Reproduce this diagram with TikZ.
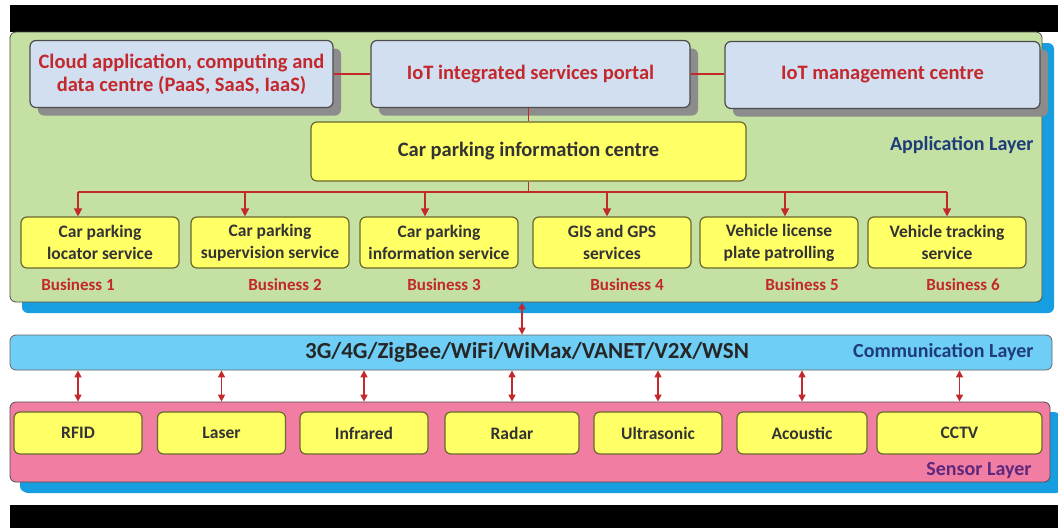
\documentclass[tikz,border=0pt]{standalone}
\usepackage{fontspec}
\setmainfont{Carlito}
\usetikzlibrary{arrows.meta,shadows}
\definecolor{appgreen}{RGB}{197,224,163}
\definecolor{shblue}{RGB}{22,158,224}
\definecolor{boxblue}{RGB}{210,223,240}
\definecolor{boxyel}{RGB}{255,255,102}
\definecolor{yelline}{RGB}{105,105,45}
\definecolor{txtred}{RGB}{195,40,45}
\definecolor{laybl}{RGB}{30,60,120}
\definecolor{commbl}{RGB}{110,206,246}
\definecolor{sensp}{RGB}{241,126,162}
\definecolor{senslab}{RGB}{95,40,125}
\tikzstyle{panel}=[draw=black!70,line width=0.8pt,rounded corners=6pt,inner sep=0,drop shadow={shadow xshift=12pt,shadow yshift=-11pt,fill=shblue,opacity=1}]
\tikzstyle{portal}=[draw=black!70,fill=boxblue,rounded corners=6pt,line width=1.2pt,text=txtred,font=\bfseries\fontsize{20.5}{23}\selectfont,align=center,minimum height=67pt,inner sep=0,drop shadow={shadow xshift=8pt,shadow yshift=-8pt,fill=black!45,opacity=1}]
\tikzstyle{biz}=[draw=yelline,fill=boxyel,rounded corners=6pt,line width=1.2pt,text=black!80,font=\bfseries\fontsize{17.5}{22}\selectfont,align=center,minimum width=158pt,minimum height=51pt,inner sep=0]
\tikzstyle{sens}=[biz,minimum width=128pt,minimum height=42pt]
\tikzstyle{bizlab}=[text=txtred,font=\bfseries\fontsize{17}{20}\selectfont]
\tikzstyle{laylab}=[anchor=east,font=\bfseries\fontsize{20}{24}\selectfont]
\tikzstyle{link}=[draw=txtred,line width=1.5pt]
\tikzstyle{dlink}=[link,{Triangle[length=7pt,width=7pt]}-{Triangle[length=7pt,width=7pt]}]

\begin{document}
\begin{tikzpicture}[x=1pt,y=-1pt]

	\useasboundingbox (0,0) rectangle (1058,528);
	\fill[white] (0,0) rectangle (1058,528);
	\fill[black] (10,5) rectangle (1058,32);
	\fill[black] (10,505) rectangle (1058,528);

	% layers
	\node[panel,fill=appgreen,minimum width=1032pt,minimum height=270pt] (app) at (526,167) {};
	\node[panel,fill=sensp,minimum width=1040pt,minimum height=80pt,drop shadow={shadow xshift=10pt,shadow yshift=-10pt,fill=shblue,opacity=1}] (sensor) at (530,442) {};
	\node[draw=black!60,fill=commbl,line width=0.8pt,rounded corners=6pt,minimum width=1042pt,minimum height=35pt,inner sep=0] (comm) at (531,352.5) {};

	\node[laylab,text=laybl] at (1037,145) {Application Layer};
	\node[laylab,text=laybl] at (1037,352.5) {Communication Layer};
	\node[laylab,text=senslab] at (1035,471) {Sensor Layer};
	\node[font=\bfseries\fontsize{23}{26}\selectfont,text=black!85] (net) at (527,352.5) {3G/4G/ZigBee/WiFi/WiMax/VANET/V2X/WSN};

	% application layer
	\node[portal,minimum width=303pt] (cloud) at (181.5,74) {Cloud application, computing and\\data centre (PaaS, SaaS, IaaS)};
	\node[portal,minimum width=319pt] (portal) at (530.5,74) {IoT integrated services portal};
	\node[portal,minimum width=315pt] (mgmt) at (882.5,75) {IoT management centre};
	\node[biz,minimum width=435pt,minimum height=59pt,font=\bfseries\fontsize{20.5}{24}\selectfont] (centre) at (528.5,151.5) {Car parking information centre};

	\node[biz] (b1) at (100,242.5) {Car parking\\locator service};
	\node[biz] (b2) at (270,242.5) {Car parking\\supervision service};
	\node[biz] (b3) at (439,242.5) {Car parking\\information service};
	\node[biz] (b4) at (612,242.5) {GIS and GPS\\services};
	\node[biz] (b5) at (779,242.5) {Vehicle license\\plate patrolling};
	\node[biz] (b6) at (947,242.5) {Vehicle tracking\\service};

	\node[bizlab] (l1) at (78,285) {Business 1};
	\node[bizlab] (l2) at (285,285) {Business 2};
	\node[bizlab] (l3) at (444,285) {Business 3};
	\node[bizlab] (l4) at (627,285) {Business 4};
	\node[bizlab] (l5) at (802,285) {Business 5};
	\node[bizlab] (l6) at (963,285) {Business 6};

	\coordinate (bus) at (0,192);
	\coordinate (up) at (522,0);

	\draw[link]
	(cloud.east) -- (portal.west)
	(portal.east |- cloud.east) -- (mgmt.west |- cloud.east)
	(portal.south -| centre.north) -- (centre.north)
	(centre.south) -- (centre.south |- bus)
	([xshift=-22pt]b1.north |- bus) -- ([xshift=0pt]b6.north |- bus)
	;

	\draw[link,-{Triangle[length=8pt,width=8pt]}]
	([xshift=-22pt]b1.north |- bus) -- ([xshift=-22pt]b1.north);
	\draw[link,-{Triangle[length=8pt,width=8pt]}]
	([xshift=-25pt]b2.north |- bus) -- ([xshift=-25pt]b2.north);
	\draw[link,-{Triangle[length=8pt,width=8pt]}]
	([xshift=-14pt]b3.north |- bus) -- ([xshift=-14pt]b3.north);
	\draw[link,-{Triangle[length=8pt,width=8pt]}]
	([xshift=-5pt]b4.north |- bus) -- ([xshift=-5pt]b4.north);
	\draw[link,-{Triangle[length=8pt,width=8pt]}]
	([xshift=6pt]b5.north |- bus) -- ([xshift=6pt]b5.north);
	\draw[link,-{Triangle[length=8pt,width=8pt]}]
	(b6.north |- bus) -- (b6.north);

	% sensor layer
	\node[sens] (s1) at (78,433) {RFID};
	\node[sens] (s2) at (221.5,433) {Laser};
	\node[sens] (s3) at (364,433) {Infrared};
	\node[sens,minimum width=134pt] (s4) at (512,433) {Radar};
	\node[sens] (s5) at (658,433) {Ultrasonic};
	\node[sens,minimum width=130pt] (s6) at (802,433) {Acoustic};
	\node[sens,minimum width=165pt] (s7) at (959.5,433) {CCTV};

	\draw[dlink] (app.south -| up) -- (comm.north -| up);
	\draw[dlink] (comm.south -| s1) -- (sensor.north -| s1);
	\draw[dlink] (comm.south -| s2) -- (sensor.north -| s2);
	\draw[dlink] (comm.south -| s3) -- (sensor.north -| s3);
	\draw[dlink] (comm.south -| s4) -- (sensor.north -| s4);
	\draw[dlink] (comm.south -| s5) -- (sensor.north -| s5);
	\draw[dlink] (comm.south -| s6) -- (sensor.north -| s6);
	\draw[dlink] (comm.south -| s7) -- (sensor.north -| s7);

\end{tikzpicture}
\end{document}
